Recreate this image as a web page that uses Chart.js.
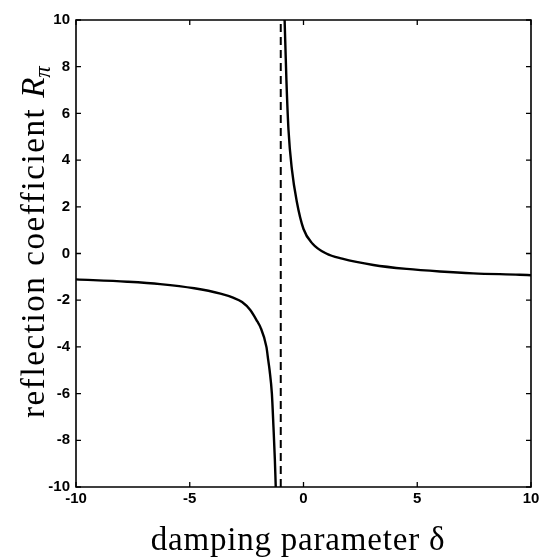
<!DOCTYPE html>
<html>
<head>
<meta charset="utf-8">
<script src="https://cdn.jsdelivr.net/npm/chart.js@4/dist/chart.umd.min.js"></script>
<style>
html, body { margin: 0; padding: 0; background: #fff; }
#wrap { width: 541px; height: 560px; }
</style>
</head>
<body>
<div id="wrap"><canvas id="c" width="541" height="560"></canvas></div>
<script>
// ---- data ----
const leftDelta  = [-10, -7.75, -6.3, -4.8, -3.65, -3.07, -2.7, -2.34, -2.03, -1.9, -1.63, -1.55, -1.49, -1.39, -1.32, -1.26, -1.22];
const leftR      = [-1.11, -1.21, -1.31, -1.49, -1.72, -1.9, -2.08, -2.42, -2.91, -3.14, -4.0, -4.57, -5.0, -6.0, -7.43, -8.8, -10];
const rightDelta = [-0.83, -0.75, -0.66, -0.51, -0.3, 0.0, 0.4, 1.0, 1.7, 3.07, 4.54, 6.0, 7.46, 9.5, 10];
const rightR     = [10, 7.4, 5.3, 3.6, 2.25, 1.05, 0.42, 0.0, -0.22, -0.49, -0.66, -0.77, -0.85, -0.91, -0.93];
const asymptoteDelta = -1;
const xLimits = [-10, 10];
const yLimits = [-10, 10];
const xTickStep = 5;
const yTickStep = 2;
const xTitleText = 'damping parameter δ';
const yTitleMain = 'reflection coefficient ';
const yTitleSymbol = 'R';
const yTitleSub = 'π';

const toPoints = (xs, ys) => xs.map((x, i) => ({ x: x, y: ys[i] }));

const framePlugin = {
  id: 'frameTicksTitles',
  afterDraw(chart) {
    const ctx = chart.ctx;
    const a = chart.chartArea;
    const xs = chart.scales.x, ys = chart.scales.y;
    const tl = 5;
    ctx.save();
    ctx.strokeStyle = '#000';
    ctx.lineWidth = 1.6;
    ctx.beginPath();
    ctx.rect(a.left, a.top, a.right - a.left, a.bottom - a.top);
    ctx.stroke();
    ctx.lineWidth = 1.3;
    ctx.beginPath();
    xs.ticks.forEach(t => {
      const p = xs.getPixelForValue(t.value);
      ctx.moveTo(p, a.bottom); ctx.lineTo(p, a.bottom - tl);
      ctx.moveTo(p, a.top); ctx.lineTo(p, a.top + tl);
    });
    ys.ticks.forEach(t => {
      const p = ys.getPixelForValue(t.value);
      ctx.moveTo(a.left, p); ctx.lineTo(a.left + tl, p);
      ctx.moveTo(a.right, p); ctx.lineTo(a.right - tl, p);
    });
    ctx.stroke();

    // x title
    ctx.fillStyle = '#000';
    ctx.font = '33px "Liberation Serif"';
    ctx.letterSpacing = '0.8px';
    ctx.textAlign = 'center';
    ctx.textBaseline = 'alphabetic';
    ctx.fillText(xTitleText, 298, 550);

    // y title (rotated)
    ctx.translate(44, 418);
    ctx.rotate(-Math.PI / 2);
    ctx.textAlign = 'left';
    ctx.font = '33px "Liberation Serif"';
    ctx.letterSpacing = '1.6px';
    ctx.fillText(yTitleMain, 0, 0);
    let w = ctx.measureText(yTitleMain).width;
    ctx.font = 'italic 33px "Liberation Serif"';
    ctx.letterSpacing = '0px';
    ctx.fillText(yTitleSymbol, w, 0);
    w += ctx.measureText(yTitleSymbol).width;
    ctx.font = 'italic 23px "Liberation Serif"';
    ctx.fillText(yTitleSub, w, 6);
    ctx.restore();
  }
};

new Chart(document.getElementById('c'), {
  type: 'scatter',
  data: {
    datasets: [
      {
        data: toPoints(leftDelta, leftR),
        showLine: true, borderColor: '#000', borderWidth: 2.4,
        pointRadius: 0, cubicInterpolationMode: 'monotone'
      },
      {
        data: toPoints(rightDelta, rightR),
        showLine: true, borderColor: '#000', borderWidth: 2.4,
        pointRadius: 0, cubicInterpolationMode: 'monotone'
      },
      {
        data: [{ x: asymptoteDelta, y: yLimits[0] }, { x: asymptoteDelta, y: yLimits[1] }],
        showLine: true, borderColor: '#000', borderWidth: 2,
        borderDash: [8, 5], pointRadius: 0
      }
    ]
  },
  options: {
    responsive: false,
    devicePixelRatio: 1,
    animation: false,
    layout: { padding: { top: 20, left: 0, right: 0, bottom: 0 } },
    plugins: { legend: { display: false }, tooltip: { enabled: false } },
    scales: {
      x: {
        type: 'linear', min: xLimits[0], max: xLimits[1],
        grid: { display: false, drawTicks: false },
        border: { display: false },
        ticks: {
          stepSize: xTickStep, color: '#000', padding: 3,
          font: { family: '"Liberation Sans", Arial, sans-serif', size: 15, weight: 'bold' }
        },
        afterFit: s => { s.height = 73; s.paddingRight = 10; s.paddingLeft = 0; }
      },
      y: {
        type: 'linear', min: yLimits[0], max: yLimits[1],
        grid: { display: false, drawTicks: false },
        border: { display: false },
        ticks: {
          stepSize: yTickStep, color: '#000', padding: 6,
          font: { family: '"Liberation Sans", Arial, sans-serif', size: 15, weight: 'bold' }
        },
        afterFit: s => { s.width = 76; s.paddingTop = 0; s.paddingBottom = 0; }
      }
    }
  },
  plugins: [framePlugin]
});
</script>
</body>
</html>
